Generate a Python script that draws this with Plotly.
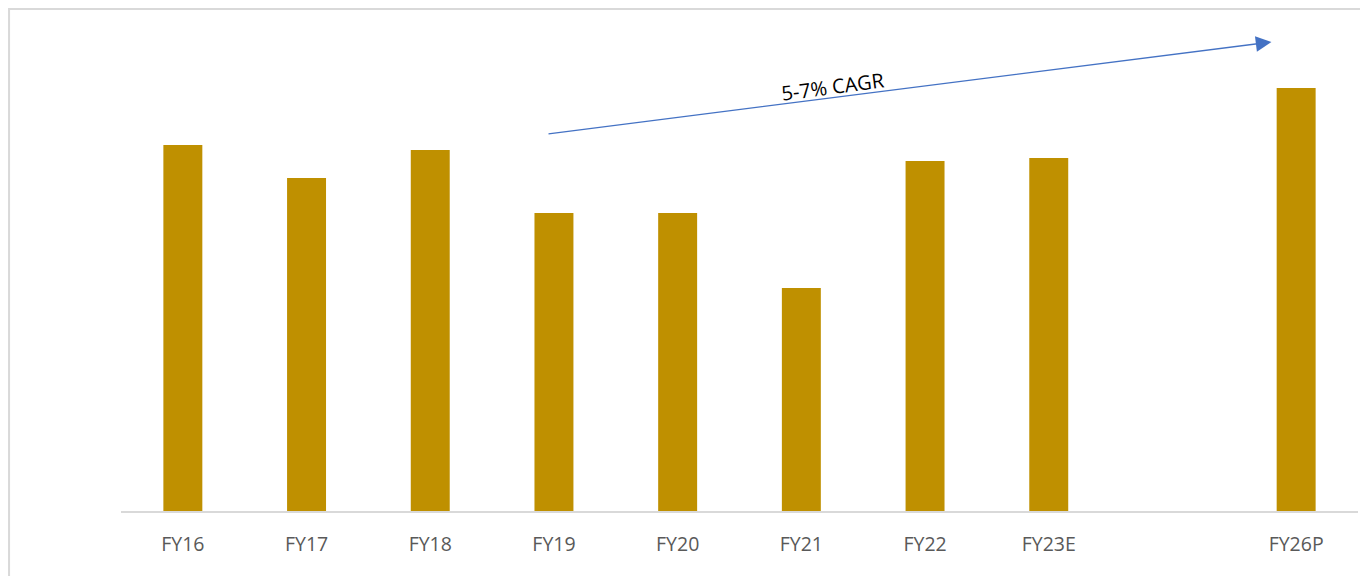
import plotly.graph_objects as go

categories = ["FY16", "FY17", "FY18", "FY19", "FY20", "FY21", "FY22", "FY23E", " ", "FY26P"]
values = [366, 333, 361, 298, 298, 223, 350, 353, None, 423]
cagr_label = "5-7% CAGR"

fig = go.Figure()
fig.add_trace(go.Bar(
    x=categories, y=values,
    marker=dict(color="#BF9000", line=dict(width=0)),
    width=0.315,
))

# arrow indicating growth
fig.add_annotation(
    x=8.80, y=469, ax=2.944, ay=377,
    xref="x", yref="y", axref="x", ayref="y",
    showarrow=True, arrowhead=2, arrowsize=2.4, arrowwidth=1.3,
    arrowcolor="#4472C4", text="",
)
fig.add_annotation(
    x=5.256, y=425, xref="x", yref="y", text=cagr_label, showarrow=False,
    textangle=-7.5, font=dict(family="Open Sans", size=20, color="#000000"),
)
# outer border
fig.add_shape(type="rect", xref="paper", yref="paper",
              x0=-0.0905, x1=1.03, y0=-0.2, y1=1.0437,
              line=dict(color="#d9d9d9", width=2), fillcolor="rgba(0,0,0,0)")

fig.update_layout(
    width=1368, height=576,
    margin=dict(l=113, r=18, t=22, b=73),
    plot_bgcolor="white", paper_bgcolor="white",
    showlegend=False,
    xaxis=dict(
        type="category", showgrid=False, showline=True, linecolor="#d9d9d9", linewidth=1.5,
        ticks="", tickfont=dict(family="Open Sans", size=19.5, color="#595959"),
        ticklabelstandoff=15,
    ),
    yaxis=dict(range=[0, 481], visible=False, showgrid=False),
)
fig.write_html("out.html")
